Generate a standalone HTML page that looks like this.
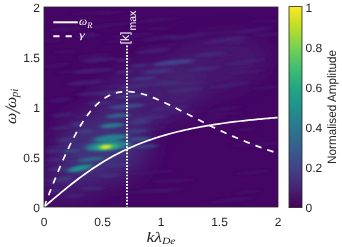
<!DOCTYPE html>
<html><head><meta charset="utf-8"><style>
html,body{margin:0;padding:0;background:#fff;}
body{width:342px;height:247px;overflow:hidden;}
svg{display:block;opacity:0.999;}
text{text-rendering:geometricPrecision;}
text{font-family:"Liberation Sans",sans-serif;font-size:12px;fill:#262626;}
.m{font-family:"Liberation Serif",serif;font-style:italic;}
</style></head><body>
<svg width="342" height="247" viewBox="0 0 342 247">
<defs>
<clipPath id="c"><rect x="44" y="7" width="234" height="200"/></clipPath>
<filter id="b" x="-30%" y="-30%" width="160%" height="160%"><feGaussianBlur stdDeviation="2.6 1.2"/></filter>
<filter id="k" x="-30%" y="-30%" width="160%" height="160%"><feGaussianBlur stdDeviation="1.6 0.8"/></filter>
<filter id="h" x="-30%" y="-30%" width="160%" height="160%"><feGaussianBlur stdDeviation="11"/></filter>
<linearGradient id="v" x1="0" y1="1" x2="0" y2="0">
<stop offset="0" stop-color="#440154"/><stop offset="0.1" stop-color="#482475"/><stop offset="0.2" stop-color="#414487"/>
<stop offset="0.3" stop-color="#355f8d"/><stop offset="0.4" stop-color="#2a788e"/><stop offset="0.5" stop-color="#21918c"/>
<stop offset="0.6" stop-color="#22a884"/><stop offset="0.7" stop-color="#44bf70"/><stop offset="0.8" stop-color="#7ad151"/>
<stop offset="0.9" stop-color="#bddf26"/><stop offset="1" stop-color="#fde725"/>
</linearGradient>
</defs>
<rect x="0" y="0" width="342" height="247" fill="#fff"/>
<rect x="44" y="7" width="234" height="200" fill="#440564"/>
<g clip-path="url(#c)">
<g filter="url(#h)">
<ellipse cx="104.0" cy="146.0" rx="46.0" ry="36.0" fill="#414487" opacity="0.55" transform="rotate(0 104.0 146.0)"/>
<ellipse cx="106.0" cy="146.0" rx="22.0" ry="10.0" fill="#33638d" opacity="0.45" transform="rotate(0 106.0 146.0)"/>
<ellipse cx="150.0" cy="95.0" rx="55.0" ry="30.0" fill="#463480" opacity="0.50" transform="rotate(-12 150.0 95.0)"/>
<ellipse cx="215.0" cy="65.0" rx="55.0" ry="28.0" fill="#472f7d" opacity="0.42" transform="rotate(-12 215.0 65.0)"/>
<ellipse cx="82.0" cy="168.0" rx="22.0" ry="10.0" fill="#3b528b" opacity="0.45" transform="rotate(-10 82.0 168.0)"/>
<ellipse cx="70.0" cy="175.0" rx="30.0" ry="30.0" fill="#46327e" opacity="0.40" transform="rotate(0 70.0 175.0)"/>
</g>
<g filter="url(#b)">
<ellipse cx="104.1" cy="26.0" rx="19.4" ry="2.0" fill="#47307c" opacity="0.21" transform="rotate(-7 104.1 26.0)"/>
<ellipse cx="239.0" cy="38.2" rx="11.7" ry="2.0" fill="#47307c" opacity="0.16" transform="rotate(-2 239.0 38.2)"/>
<ellipse cx="247.2" cy="192.0" rx="13.6" ry="2.0" fill="#47307c" opacity="0.18" transform="rotate(-7 247.2 192.0)"/>
<ellipse cx="151.8" cy="113.9" rx="16.7" ry="2.0" fill="#47307c" opacity="0.23" transform="rotate(-6 151.8 113.9)"/>
<ellipse cx="149.7" cy="129.0" rx="17.1" ry="2.0" fill="#47307c" opacity="0.17" transform="rotate(-6 149.7 129.0)"/>
<ellipse cx="223.8" cy="109.0" rx="17.9" ry="2.0" fill="#47307c" opacity="0.21" transform="rotate(-7 223.8 109.0)"/>
<ellipse cx="226.5" cy="32.3" rx="17.8" ry="2.0" fill="#47307c" opacity="0.13" transform="rotate(-3 226.5 32.3)"/>
<ellipse cx="213.2" cy="118.3" rx="14.6" ry="2.0" fill="#47307c" opacity="0.17" transform="rotate(-5 213.2 118.3)"/>
<ellipse cx="91.2" cy="12.8" rx="21.2" ry="2.0" fill="#47307c" opacity="0.12" transform="rotate(-4 91.2 12.8)"/>
<ellipse cx="162.9" cy="113.6" rx="17.3" ry="2.0" fill="#47307c" opacity="0.10" transform="rotate(-4 162.9 113.6)"/>
<ellipse cx="153.1" cy="123.4" rx="22.7" ry="2.0" fill="#47307c" opacity="0.16" transform="rotate(-7 153.1 123.4)"/>
<ellipse cx="108.4" cy="92.0" rx="11.8" ry="2.0" fill="#47307c" opacity="0.23" transform="rotate(-4 108.4 92.0)"/>
<ellipse cx="97.5" cy="60.1" rx="14.1" ry="2.0" fill="#47307c" opacity="0.13" transform="rotate(-5 97.5 60.1)"/>
<ellipse cx="168.5" cy="190.3" rx="16.1" ry="2.0" fill="#47307c" opacity="0.22" transform="rotate(-6 168.5 190.3)"/>
<ellipse cx="173.4" cy="37.0" rx="10.2" ry="2.0" fill="#47307c" opacity="0.24" transform="rotate(-5 173.4 37.0)"/>
<ellipse cx="82.9" cy="169.9" rx="23.7" ry="2.0" fill="#47307c" opacity="0.19" transform="rotate(-4 82.9 169.9)"/>
<ellipse cx="88.3" cy="36.3" rx="12.1" ry="2.0" fill="#47307c" opacity="0.23" transform="rotate(-6 88.3 36.3)"/>
<ellipse cx="268.6" cy="87.6" rx="15.6" ry="2.0" fill="#47307c" opacity="0.23" transform="rotate(-6 268.6 87.6)"/>
<ellipse cx="157.6" cy="46.1" rx="21.0" ry="2.0" fill="#47307c" opacity="0.15" transform="rotate(-6 157.6 46.1)"/>
<ellipse cx="69.1" cy="138.2" rx="22.7" ry="2.0" fill="#47307c" opacity="0.21" transform="rotate(-6 69.1 138.2)"/>
<ellipse cx="252.6" cy="172.5" rx="16.7" ry="2.0" fill="#47307c" opacity="0.19" transform="rotate(-6 252.6 172.5)"/>
<ellipse cx="99.6" cy="55.3" rx="12.8" ry="2.0" fill="#47307c" opacity="0.13" transform="rotate(-5 99.6 55.3)"/>
<ellipse cx="150.6" cy="191.0" rx="23.8" ry="2.0" fill="#47307c" opacity="0.23" transform="rotate(-4 150.6 191.0)"/>
<ellipse cx="56.3" cy="65.4" rx="13.6" ry="2.0" fill="#47307c" opacity="0.20" transform="rotate(-7 56.3 65.4)"/>
<ellipse cx="216.5" cy="55.3" rx="17.2" ry="2.0" fill="#47307c" opacity="0.15" transform="rotate(-2 216.5 55.3)"/>
<ellipse cx="232.6" cy="200.1" rx="21.9" ry="2.0" fill="#47307c" opacity="0.21" transform="rotate(-6 232.6 200.1)"/>
<ellipse cx="223.7" cy="113.7" rx="20.9" ry="2.0" fill="#47307c" opacity="0.15" transform="rotate(-3 223.7 113.7)"/>
<ellipse cx="244.2" cy="145.0" rx="13.7" ry="2.0" fill="#47307c" opacity="0.15" transform="rotate(-3 244.2 145.0)"/>
<ellipse cx="83.0" cy="115.7" rx="10.4" ry="2.0" fill="#47307c" opacity="0.17" transform="rotate(-7 83.0 115.7)"/>
<ellipse cx="236.5" cy="42.8" rx="10.3" ry="2.0" fill="#47307c" opacity="0.23" transform="rotate(-5 236.5 42.8)"/>
<ellipse cx="158.9" cy="28.4" rx="11.4" ry="2.0" fill="#47307c" opacity="0.15" transform="rotate(-3 158.9 28.4)"/>
<ellipse cx="131.9" cy="35.5" rx="21.9" ry="2.0" fill="#47307c" opacity="0.24" transform="rotate(-4 131.9 35.5)"/>
<ellipse cx="246.7" cy="129.3" rx="12.1" ry="2.0" fill="#47307c" opacity="0.14" transform="rotate(-4 246.7 129.3)"/>
<ellipse cx="50.1" cy="40.9" rx="11.4" ry="2.0" fill="#47307c" opacity="0.15" transform="rotate(-2 50.1 40.9)"/>
<ellipse cx="65.2" cy="51.9" rx="12.3" ry="2.0" fill="#47307c" opacity="0.15" transform="rotate(-2 65.2 51.9)"/>
<ellipse cx="138.3" cy="88.2" rx="11.4" ry="2.0" fill="#47307c" opacity="0.19" transform="rotate(-2 138.3 88.2)"/>
<ellipse cx="62.1" cy="183.8" rx="20.9" ry="2.0" fill="#47307c" opacity="0.22" transform="rotate(-6 62.1 183.8)"/>
<ellipse cx="264.4" cy="143.9" rx="17.2" ry="2.0" fill="#47307c" opacity="0.19" transform="rotate(-6 264.4 143.9)"/>
<ellipse cx="109.1" cy="12.8" rx="15.9" ry="2.0" fill="#47307c" opacity="0.15" transform="rotate(-5 109.1 12.8)"/>
<ellipse cx="89.6" cy="56.3" rx="13.3" ry="2.0" fill="#47307c" opacity="0.17" transform="rotate(-5 89.6 56.3)"/>
<ellipse cx="143.4" cy="80.5" rx="22.4" ry="2.0" fill="#47307c" opacity="0.23" transform="rotate(-2 143.4 80.5)"/>
<ellipse cx="173.6" cy="180.7" rx="21.5" ry="2.0" fill="#47307c" opacity="0.22" transform="rotate(-3 173.6 180.7)"/>
<ellipse cx="105.7" cy="86.7" rx="22.2" ry="2.0" fill="#47307c" opacity="0.11" transform="rotate(-4 105.7 86.7)"/>
<ellipse cx="87.8" cy="34.4" rx="10.8" ry="2.0" fill="#47307c" opacity="0.21" transform="rotate(-2 87.8 34.4)"/>
<ellipse cx="114.0" cy="85.7" rx="19.4" ry="2.0" fill="#47307c" opacity="0.10" transform="rotate(-4 114.0 85.7)"/>
<ellipse cx="63.7" cy="146.0" rx="19.1" ry="2.0" fill="#47307c" opacity="0.24" transform="rotate(-6 63.7 146.0)"/>
<ellipse cx="152.6" cy="172.4" rx="23.2" ry="2.0" fill="#47307c" opacity="0.17" transform="rotate(-5 152.6 172.4)"/>
<ellipse cx="247.0" cy="71.9" rx="19.7" ry="2.0" fill="#47307c" opacity="0.18" transform="rotate(-5 247.0 71.9)"/>
<ellipse cx="160.0" cy="19.5" rx="19.4" ry="2.0" fill="#47307c" opacity="0.21" transform="rotate(-5 160.0 19.5)"/>
<ellipse cx="270.5" cy="34.6" rx="15.9" ry="2.0" fill="#47307c" opacity="0.21" transform="rotate(-2 270.5 34.6)"/>
<ellipse cx="179.2" cy="112.3" rx="22.3" ry="2.0" fill="#47307c" opacity="0.20" transform="rotate(-3 179.2 112.3)"/>
<ellipse cx="152.0" cy="69.3" rx="21.1" ry="2.0" fill="#47307c" opacity="0.20" transform="rotate(-3 152.0 69.3)"/>
<ellipse cx="96.3" cy="142.0" rx="16.0" ry="2.0" fill="#47307c" opacity="0.14" transform="rotate(-5 96.3 142.0)"/>
<ellipse cx="193.8" cy="83.1" rx="17.7" ry="2.0" fill="#47307c" opacity="0.11" transform="rotate(-2 193.8 83.1)"/>
<ellipse cx="76.5" cy="70.9" rx="21.4" ry="2.0" fill="#47307c" opacity="0.13" transform="rotate(-5 76.5 70.9)"/>
<ellipse cx="269.7" cy="20.9" rx="22.0" ry="2.0" fill="#47307c" opacity="0.14" transform="rotate(-2 269.7 20.9)"/>
<ellipse cx="100.2" cy="131.8" rx="23.3" ry="2.0" fill="#47307c" opacity="0.18" transform="rotate(-4 100.2 131.8)"/>
<ellipse cx="65.7" cy="29.3" rx="15.9" ry="2.0" fill="#47307c" opacity="0.22" transform="rotate(-2 65.7 29.3)"/>
<ellipse cx="132.3" cy="23.1" rx="17.1" ry="2.0" fill="#47307c" opacity="0.11" transform="rotate(-4 132.3 23.1)"/>
<ellipse cx="122.9" cy="40.8" rx="19.1" ry="2.0" fill="#47307c" opacity="0.11" transform="rotate(-5 122.9 40.8)"/>
<ellipse cx="108.0" cy="146.0" rx="23.0" ry="5.0" fill="#26828e" opacity="0.95" transform="rotate(-5 108.0 146.0)"/>
<ellipse cx="106.5" cy="146.8" rx="12.0" ry="2.8" fill="#35b779" opacity="1.00" transform="rotate(-5 106.5 146.8)"/>
<ellipse cx="110.5" cy="138.0" rx="17.0" ry="3.2" fill="#25858e" opacity="0.95" transform="rotate(-6 110.5 138.0)"/>
<ellipse cx="112.0" cy="125.5" rx="12.0" ry="2.5" fill="#2a788e" opacity="0.95" transform="rotate(-5 112.0 125.5)"/>
<ellipse cx="117.5" cy="115.8" rx="12.0" ry="2.3" fill="#31688e" opacity="0.85" transform="rotate(-5 117.5 115.8)"/>
<ellipse cx="127.0" cy="106.3" rx="18.0" ry="2.2" fill="#38598c" opacity="0.75" transform="rotate(-5 127.0 106.3)"/>
<ellipse cx="132.6" cy="96.0" rx="17.0" ry="2.0" fill="#3e4989" opacity="0.65" transform="rotate(-5 132.6 96.0)"/>
<ellipse cx="80.0" cy="168.2" rx="13.0" ry="3.0" fill="#25858e" opacity="1.00" transform="rotate(-12 80.0 168.2)"/>
<ellipse cx="80.0" cy="168.2" rx="6.0" ry="1.6" fill="#1f9e89" opacity="0.80" transform="rotate(-12 80.0 168.2)"/>
<ellipse cx="91.0" cy="159.4" rx="13.0" ry="2.2" fill="#2c728e" opacity="0.80" transform="rotate(-6 91.0 159.4)"/>
<ellipse cx="140.0" cy="139.0" rx="11.0" ry="2.2" fill="#355f8d" opacity="0.70" transform="rotate(-3 140.0 139.0)"/>
<ellipse cx="145.5" cy="146.4" rx="13.0" ry="2.0" fill="#38598c" opacity="0.60" transform="rotate(-3 145.5 146.4)"/>
<ellipse cx="138.0" cy="131.0" rx="10.0" ry="2.0" fill="#3b528b" opacity="0.60" transform="rotate(-3 138.0 131.0)"/>
<ellipse cx="140.0" cy="122.0" rx="11.0" ry="2.0" fill="#3e4989" opacity="0.60" transform="rotate(-3 140.0 122.0)"/>
<ellipse cx="84.7" cy="131.6" rx="8.0" ry="2.0" fill="#3b528b" opacity="0.60" transform="rotate(-5 84.7 131.6)"/>
<ellipse cx="71.0" cy="151.0" rx="9.0" ry="2.0" fill="#38598c" opacity="0.60" transform="rotate(-5 71.0 151.0)"/>
<ellipse cx="78.0" cy="124.0" rx="8.0" ry="2.0" fill="#3e4989" opacity="0.50" transform="rotate(-5 78.0 124.0)"/>
<ellipse cx="66.0" cy="140.0" rx="8.0" ry="2.0" fill="#3e4989" opacity="0.50" transform="rotate(-5 66.0 140.0)"/>
<ellipse cx="54.0" cy="151.0" rx="8.0" ry="2.0" fill="#414487" opacity="0.50" transform="rotate(-3 54.0 151.0)"/>
<ellipse cx="54.0" cy="160.0" rx="8.0" ry="2.0" fill="#443983" opacity="0.45" transform="rotate(-3 54.0 160.0)"/>
<ellipse cx="57.0" cy="169.0" rx="9.0" ry="2.0" fill="#414487" opacity="0.50" transform="rotate(-5 57.0 169.0)"/>
<ellipse cx="64.0" cy="179.0" rx="9.0" ry="2.0" fill="#3b528b" opacity="0.60" transform="rotate(-10 64.0 179.0)"/>
<ellipse cx="54.0" cy="180.5" rx="7.0" ry="2.0" fill="#433e85" opacity="0.50" transform="rotate(-5 54.0 180.5)"/>
<ellipse cx="55.0" cy="191.0" rx="7.0" ry="2.0" fill="#433e85" opacity="0.50" transform="rotate(-8 55.0 191.0)"/>
<ellipse cx="92.5" cy="188.5" rx="12.0" ry="2.0" fill="#443983" opacity="0.45" transform="rotate(-3 92.5 188.5)"/>
<ellipse cx="108.7" cy="175.5" rx="12.0" ry="2.0" fill="#433e85" opacity="0.50" transform="rotate(-3 108.7 175.5)"/>
<ellipse cx="75.0" cy="196.0" rx="10.0" ry="2.0" fill="#453781" opacity="0.40" transform="rotate(-3 75.0 196.0)"/>
<ellipse cx="120.0" cy="165.0" rx="12.0" ry="2.0" fill="#433e85" opacity="0.45" transform="rotate(-3 120.0 165.0)"/>
<ellipse cx="110.0" cy="93.0" rx="14.0" ry="2.0" fill="#404688" opacity="0.45" transform="rotate(-5 110.0 93.0)"/>
<ellipse cx="100.0" cy="103.0" rx="12.0" ry="2.0" fill="#424086" opacity="0.45" transform="rotate(-5 100.0 103.0)"/>
<ellipse cx="135.0" cy="86.0" rx="16.0" ry="2.0" fill="#433e85" opacity="0.45" transform="rotate(-5 135.0 86.0)"/>
<ellipse cx="150.0" cy="118.0" rx="18.0" ry="2.0" fill="#414487" opacity="0.45" transform="rotate(-5 150.0 118.0)"/>
<ellipse cx="170.0" cy="108.0" rx="20.0" ry="2.0" fill="#453781" opacity="0.40" transform="rotate(-5 170.0 108.0)"/>
<ellipse cx="173.7" cy="62.4" rx="22.0" ry="2.3" fill="#454c94" opacity="0.80" transform="rotate(-6 173.7 62.4)"/>
<ellipse cx="157.5" cy="71.4" rx="15.0" ry="2.2" fill="#414487" opacity="0.65" transform="rotate(-5 157.5 71.4)"/>
<ellipse cx="143.0" cy="78.5" rx="13.0" ry="2.0" fill="#404688" opacity="0.60" transform="rotate(-5 143.0 78.5)"/>
<ellipse cx="152.6" cy="51.0" rx="17.0" ry="2.0" fill="#453781" opacity="0.50" transform="rotate(-6 152.6 51.0)"/>
<ellipse cx="209.0" cy="54.3" rx="16.0" ry="2.0" fill="#453781" opacity="0.50" transform="rotate(-6 209.0 54.3)"/>
<ellipse cx="204.4" cy="68.8" rx="17.0" ry="2.0" fill="#453781" opacity="0.50" transform="rotate(-6 204.4 68.8)"/>
<ellipse cx="139.7" cy="65.6" rx="10.0" ry="2.0" fill="#433e85" opacity="0.50" transform="rotate(-5 139.7 65.6)"/>
<ellipse cx="164.0" cy="83.4" rx="15.0" ry="2.0" fill="#433e85" opacity="0.50" transform="rotate(-5 164.0 83.4)"/>
<ellipse cx="185.0" cy="90.0" rx="18.0" ry="2.0" fill="#453781" opacity="0.45" transform="rotate(-6 185.0 90.0)"/>
<ellipse cx="225.0" cy="40.0" rx="22.0" ry="2.0" fill="#46327e" opacity="0.45" transform="rotate(-8 225.0 40.0)"/>
<ellipse cx="245.0" cy="62.0" rx="20.0" ry="2.0" fill="#46327e" opacity="0.40" transform="rotate(-8 245.0 62.0)"/>
<ellipse cx="190.0" cy="36.0" rx="20.0" ry="2.0" fill="#46327e" opacity="0.40" transform="rotate(-8 190.0 36.0)"/>
<ellipse cx="160.0" cy="38.0" rx="18.0" ry="2.0" fill="#46327e" opacity="0.35" transform="rotate(-8 160.0 38.0)"/>
<ellipse cx="230.0" cy="85.0" rx="20.0" ry="2.0" fill="#46327e" opacity="0.40" transform="rotate(-8 230.0 85.0)"/>
<ellipse cx="255.0" cy="30.0" rx="18.0" ry="2.0" fill="#46327e" opacity="0.35" transform="rotate(-8 255.0 30.0)"/>
<ellipse cx="99.0" cy="59.8" rx="18.0" ry="2.2" fill="#472d7b" opacity="0.55" transform="rotate(-5 99.0 59.8)"/>
<ellipse cx="93.0" cy="71.0" rx="20.0" ry="2.2" fill="#472d7b" opacity="0.55" transform="rotate(-5 93.0 71.0)"/>
<ellipse cx="86.0" cy="82.5" rx="19.0" ry="2.2" fill="#472d7b" opacity="0.55" transform="rotate(-5 86.0 82.5)"/>
<ellipse cx="89.0" cy="93.8" rx="12.0" ry="2.0" fill="#46327e" opacity="0.50" transform="rotate(-5 89.0 93.8)"/>
<ellipse cx="125.0" cy="72.0" rx="9.0" ry="2.0" fill="#453781" opacity="0.50" transform="rotate(-5 125.0 72.0)"/>
<ellipse cx="123.0" cy="60.0" rx="8.0" ry="2.0" fill="#46327e" opacity="0.45" transform="rotate(-5 123.0 60.0)"/>
<ellipse cx="60.0" cy="100.0" rx="12.0" ry="2.0" fill="#472d7b" opacity="0.45" transform="rotate(-5 60.0 100.0)"/>
<ellipse cx="62.0" cy="115.0" rx="12.0" ry="2.0" fill="#46327e" opacity="0.45" transform="rotate(-5 62.0 115.0)"/>
<ellipse cx="60.0" cy="128.0" rx="10.0" ry="2.0" fill="#453781" opacity="0.45" transform="rotate(-5 60.0 128.0)"/>
</g>
<g filter="url(#k)">
<ellipse cx="106.0" cy="146.9" rx="6.5" ry="1.9" fill="#b5de2b" opacity="1.00" transform="rotate(-5 106.0 146.9)"/>
<ellipse cx="106.0" cy="147.0" rx="3.6" ry="1.3" fill="#fde725" opacity="1.00" transform="rotate(-5 106.0 147.0)"/>
</g>
<path d="M44.00 207.00 L45.95 205.33 L47.90 203.67 L49.85 202.01 L51.80 200.35 L53.75 198.70 L55.70 197.05 L57.65 195.41 L59.60 193.78 L61.55 192.17 L63.50 190.56 L65.45 188.97 L67.40 187.39 L69.35 185.82 L71.30 184.28 L73.25 182.75 L75.20 181.23 L77.15 179.74 L79.10 178.27 L81.05 176.81 L83.00 175.38 L84.95 173.96 L86.90 172.57 L88.85 171.21 L90.80 169.86 L92.75 168.54 L94.70 167.24 L96.65 165.96 L98.60 164.71 L100.55 163.48 L102.50 162.28 L104.45 161.10 L106.40 159.94 L108.35 158.81 L110.30 157.70 L112.25 156.61 L114.20 155.55 L116.15 154.51 L118.10 153.49 L120.05 152.50 L122.00 151.53 L123.95 150.58 L125.90 149.65 L127.85 148.75 L129.80 147.86 L131.75 147.00 L133.70 146.16 L135.65 145.33 L137.60 144.53 L139.55 143.75 L141.50 142.98 L143.45 142.24 L145.40 141.51 L147.35 140.80 L149.30 140.10 L151.25 139.43 L153.20 138.77 L155.15 138.13 L157.10 137.50 L159.05 136.89 L161.00 136.29 L162.95 135.71 L164.90 135.14 L166.85 134.59 L168.80 134.05 L170.75 133.52 L172.70 133.01 L174.65 132.50 L176.60 132.02 L178.55 131.54 L180.50 131.07 L182.45 130.62 L184.40 130.18 L186.35 129.75 L188.30 129.32 L190.25 128.91 L192.20 128.51 L194.15 128.12 L196.10 127.74 L198.05 127.36 L200.00 127.00 L201.95 126.64 L203.90 126.30 L205.85 125.96 L207.80 125.63 L209.75 125.30 L211.70 124.99 L213.65 124.68 L215.60 124.38 L217.55 124.08 L219.50 123.79 L221.45 123.51 L223.40 123.24 L225.35 122.97 L227.30 122.71 L229.25 122.45 L231.20 122.20 L233.15 121.95 L235.10 121.71 L237.05 121.48 L239.00 121.25 L240.95 121.03 L242.90 120.81 L244.85 120.59 L246.80 120.38 L248.75 120.18 L250.70 119.97 L252.65 119.78 L254.60 119.58 L256.55 119.40 L258.50 119.21 L260.45 119.03 L262.40 118.85 L264.35 118.68 L266.30 118.51 L268.25 118.34 L270.20 118.18 L272.15 118.02 L274.10 117.86 L276.05 117.71 L278.00 117.56" fill="none" stroke="#fff" stroke-width="1.7"/>
<path d="M44.00 207.00 L45.95 202.00 L47.90 197.02 L49.85 192.06 L51.80 187.13 L53.75 182.26 L55.70 177.44 L57.65 172.70 L59.60 168.04 L61.55 163.48 L63.50 159.01 L65.45 154.66 L67.40 150.43 L69.35 146.32 L71.30 142.35 L73.25 138.52 L75.20 134.83 L77.15 131.30 L79.10 127.91 L81.05 124.69 L83.00 121.62 L84.95 118.71 L86.90 115.96 L88.85 113.38 L90.80 110.95 L92.75 108.68 L94.70 106.58 L96.65 104.62 L98.60 102.82 L100.55 101.17 L102.50 99.67 L104.45 98.31 L106.40 97.09 L108.35 96.00 L110.30 95.05 L112.25 94.22 L114.20 93.51 L116.15 92.92 L118.10 92.44 L120.05 92.06 L122.00 91.79 L123.95 91.62 L125.90 91.54 L127.85 91.54 L129.80 91.63 L131.75 91.80 L133.70 92.04 L135.65 92.35 L137.60 92.73 L139.55 93.16 L141.50 93.66 L143.45 94.20 L145.40 94.80 L147.35 95.44 L149.30 96.12 L151.25 96.84 L153.20 97.60 L155.15 98.39 L157.10 99.21 L159.05 100.06 L161.00 100.93 L162.95 101.83 L164.90 102.74 L166.85 103.67 L168.80 104.62 L170.75 105.58 L172.70 106.56 L174.65 107.54 L176.60 108.53 L178.55 109.53 L180.50 110.53 L182.45 111.54 L184.40 112.55 L186.35 113.56 L188.30 114.57 L190.25 115.58 L192.20 116.59 L194.15 117.60 L196.10 118.60 L198.05 119.60 L200.00 120.60 L201.95 121.59 L203.90 122.58 L205.85 123.55 L207.80 124.53 L209.75 125.49 L211.70 126.45 L213.65 127.40 L215.60 128.34 L217.55 129.27 L219.50 130.20 L221.45 131.11 L223.40 132.01 L225.35 132.91 L227.30 133.80 L229.25 134.67 L231.20 135.54 L233.15 136.40 L235.10 137.24 L237.05 138.08 L239.00 138.90 L240.95 139.72 L242.90 140.53 L244.85 141.32 L246.80 142.11 L248.75 142.88 L250.70 143.65 L252.65 144.40 L254.60 145.15 L256.55 145.88 L258.50 146.61 L260.45 147.33 L262.40 148.03 L264.35 148.73 L266.30 149.41 L268.25 150.09 L270.20 150.76 L272.15 151.42 L274.10 152.06 L276.05 152.70 L278.00 153.33" fill="none" stroke="#fff" stroke-width="1.7" stroke-dasharray="6.5 6.1"/>
<line x1="127" y1="45.5" x2="127" y2="207" stroke="#fff" stroke-width="2" stroke-dasharray="1.7 1.45"/>
</g>
<rect x="44" y="7" width="234" height="200" fill="none" stroke="#262626" stroke-width="0.8"/>
<!-- legend -->
<line x1="53.3" y1="22.3" x2="77.8" y2="22.3" stroke="#fff" stroke-width="2"/>
<line x1="53.3" y1="36.3" x2="77.8" y2="36.3" stroke="#fff" stroke-width="2" stroke-dasharray="6.2 6.1"/>
<text class="m" x="79" y="25" style="fill:#fff;font-size:11.5px">ω<tspan dy="2.6" font-size="8.5">R</tspan></text>
<text class="m" transform="translate(79.3 38.3) scale(1.4 1)" style="fill:#fff;font-size:10px">γ</text>
<!-- kmax -->
<text transform="translate(128.5 44.3) rotate(-90)" style="fill:#fff;font-size:12px">[k]</text>
<text transform="translate(136 30.6) rotate(-90)" style="fill:#fff;font-size:10.5px">max</text>
<!-- colorbar -->
<rect x="289" y="6.6" width="13" height="201" fill="url(#v)" stroke="#262626" stroke-width="0.8"/>
<text x="44.0" y="225.6" text-anchor="middle">0</text>
<text x="102.5" y="225.6" text-anchor="middle">0.5</text>
<text x="161.0" y="225.6" text-anchor="middle">1</text>
<text x="219.5" y="225.6" text-anchor="middle">1.5</text>
<text x="278.0" y="225.6" text-anchor="middle">2</text>
<text x="39.9" y="212.4" text-anchor="end">0</text>
<text x="39.9" y="162.4" text-anchor="end">0.5</text>
<text x="39.9" y="112.4" text-anchor="end">1</text>
<text x="39.9" y="62.4" text-anchor="end">1.5</text>
<text x="39.9" y="12.4" text-anchor="end">2</text>
<text x="305.6" y="211.8">0</text>
<text x="305.6" y="171.8">0.2</text>
<text x="305.6" y="131.8">0.4</text>
<text x="305.6" y="91.8">0.6</text>
<text x="305.6" y="51.8">0.8</text>
<text x="305.6" y="11.8">1</text>

<text class="m" transform="translate(161 242) scale(1.22 1)" text-anchor="middle" style="font-size:14.5px;fill:#222">kλ<tspan dy="1.8" font-size="9.5">De</tspan></text>
<text class="m" transform="translate(15.6 124) rotate(-90)" style="font-size:15.8px;fill:#2a2a2a">ω<tspan dy="4.5" dx="-0.5" font-size="22" fill="#4a4a4a">/</tspan><tspan dy="-4.5" dx="-0.8">ω</tspan><tspan dy="2.4" dx="-0.3" font-size="11">pi</tspan></text>
<text transform="translate(336 164) rotate(-90)" textLength="114" lengthAdjust="spacingAndGlyphs" style="font-size:12.2px">Normalised Amplitude</text>
</svg>
</body></html>
